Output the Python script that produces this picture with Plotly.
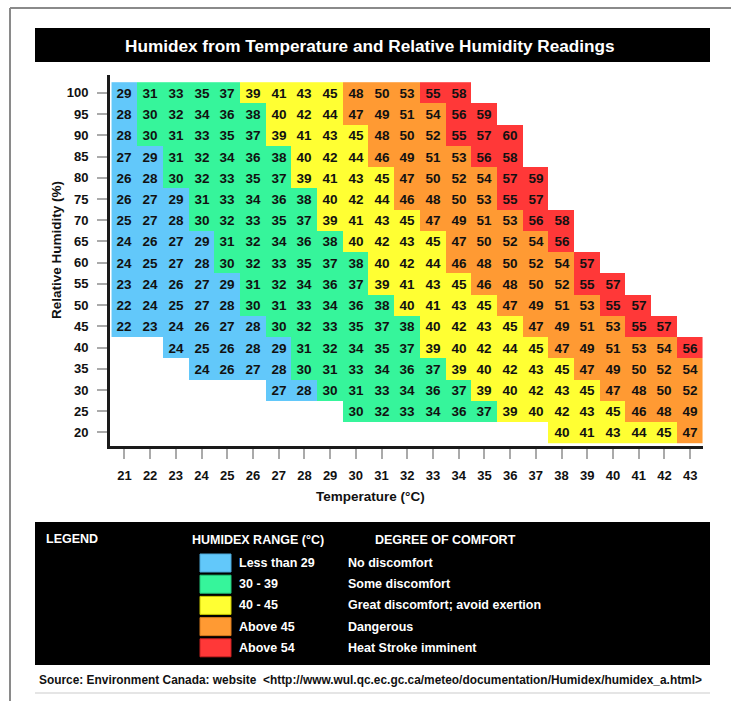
import plotly.graph_objects as go

# ---------------- data ----------------
TEMPERATURES = [21, 22, 23, 24, 25, 26, 27, 28, 29, 30, 31, 32, 33, 34, 35, 36, 37, 38, 39, 40, 41, 42, 43]
HUMIDITY = [100, 95, 90, 85, 80, 75, 70, 65, 60, 55, 50, 45, 40, 35, 30, 25, 20]
ROW_START_TEMP = [21, 21, 21, 21, 21, 21, 21, 21, 21, 21, 21, 21, 23, 24, 27, 30, 38]

HUMIDEX_100 = [29, 31, 33, 35, 37, 39, 41, 43, 45, 48, 50, 53, 55, 58]
HUMIDEX_95 = [28, 30, 32, 34, 36, 38, 40, 42, 44, 47, 49, 51, 54, 56, 59]
HUMIDEX_90 = [28, 30, 31, 33, 35, 37, 39, 41, 43, 45, 48, 50, 52, 55, 57, 60]
HUMIDEX_85 = [27, 29, 31, 32, 34, 36, 38, 40, 42, 44, 46, 49, 51, 53, 56, 58]
HUMIDEX_80 = [26, 28, 30, 32, 33, 35, 37, 39, 41, 43, 45, 47, 50, 52, 54, 57, 59]
HUMIDEX_75 = [26, 27, 29, 31, 33, 34, 36, 38, 40, 42, 44, 46, 48, 50, 53, 55, 57]
HUMIDEX_70 = [25, 27, 28, 30, 32, 33, 35, 37, 39, 41, 43, 45, 47, 49, 51, 53, 56, 58]
HUMIDEX_65 = [24, 26, 27, 29, 31, 32, 34, 36, 38, 40, 42, 43, 45, 47, 50, 52, 54, 56]
HUMIDEX_60 = [24, 25, 27, 28, 30, 32, 33, 35, 37, 38, 40, 42, 44, 46, 48, 50, 52, 54, 57]
HUMIDEX_55 = [23, 24, 26, 27, 29, 31, 32, 34, 36, 37, 39, 41, 43, 45, 46, 48, 50, 52, 55, 57]
HUMIDEX_50 = [22, 24, 25, 27, 28, 30, 31, 33, 34, 36, 38, 40, 41, 43, 45, 47, 49, 51, 53, 55, 57]
HUMIDEX_45 = [22, 23, 24, 26, 27, 28, 30, 32, 33, 35, 37, 38, 40, 42, 43, 45, 47, 49, 51, 53, 55, 57]
HUMIDEX_40 = [24, 25, 26, 28, 29, 31, 32, 34, 35, 37, 39, 40, 42, 44, 45, 47, 49, 51, 53, 54, 56]
HUMIDEX_35 = [24, 26, 27, 28, 30, 31, 33, 34, 36, 37, 39, 40, 42, 43, 45, 47, 49, 50, 52, 54]
HUMIDEX_30 = [27, 28, 30, 31, 33, 34, 36, 37, 39, 40, 42, 43, 45, 47, 48, 50, 52]
HUMIDEX_25 = [30, 32, 33, 34, 36, 37, 39, 40, 42, 43, 45, 46, 48, 49]
HUMIDEX_20 = [40, 41, 43, 44, 45, 47]

HUMIDEX_ROWS = [HUMIDEX_100, HUMIDEX_95, HUMIDEX_90, HUMIDEX_85, HUMIDEX_80, HUMIDEX_75,
                HUMIDEX_70, HUMIDEX_65, HUMIDEX_60, HUMIDEX_55, HUMIDEX_50, HUMIDEX_45,
                HUMIDEX_40, HUMIDEX_35, HUMIDEX_30, HUMIDEX_25, HUMIDEX_20]

# colour bands as drawn in the chart (upper value of each band)
BAND_UPPER = [29, 38, 45, 54]
BAND_COLORS = ["#62c8fa", "#36f59b", "#ffff33", "#ff9a33", "#ff3838"]
BAND_EDGE_COLORS = ["#4aa6d6", "#22c77a", "#c9c900", "#d97a1c", "#c82020"]
RANGE_LABELS = ["Less than 29", "30 - 39", "40 - 45", "Above 45", "Above 54"]
COMFORT_LABELS = ["No discomfort", "Some discomfort", "Great discomfort; avoid exertion",
                  "Dangerous", "Heat Stroke imminent"]

TITLE = "Humidex from Temperature and Relative Humidity Readings"
X_TITLE = "Temperature (°C)"
Y_TITLE = "Relative Humidity (%)"
SOURCE = ("Source: Environment Canada: website  "
          "&lt;http://www.wul.qc.ec.gc.ca/meteo/documentation/Humidex/humidex_a.html&gt;")

# ---------------- build grid ----------------
W, H = 731, 701
FONT = "Liberation Sans, Arial, Helvetica, sans-serif"


def band(v):
    return sum(1 for e in BAND_UPPER if v > e)


z_cat, z_txt = [], []
for start, row in zip(ROW_START_TEMP, HUMIDEX_ROWS):
    zc = [None] * len(TEMPERATURES)
    zt = [""] * len(TEMPERATURES)
    i0 = TEMPERATURES.index(start)
    for k, v in enumerate(row):
        zc[i0 + k] = band(v)
        zt[i0 + k] = str(v)
    z_cat.append(zc)
    z_txt.append(zt)

n = len(BAND_COLORS)
colorscale = []
for i, c in enumerate(BAND_COLORS):
    colorscale.append([i / n, c])
    colorscale.append([(i + 1) / n, c])

fig = go.Figure(go.Heatmap(
    x=TEMPERATURES, y=HUMIDITY, z=z_cat, text=z_txt,
    texttemplate="<b>%{text}</b>",
    textfont=dict(family=FONT, size=13.5, color="#111111"),
    colorscale=colorscale, zmin=-0.5, zmax=n - 0.5, showscale=False,
    hoverongaps=False, xgap=0, ygap=0,
))


def px(x):
    return x / W


def py(y):
    return 1 - y / H


shapes, annotations = [], []


def label(text, x, y, size, color, xanchor="left", angle=0):
    annotations.append(dict(text="<b>" + text + "</b>", xref="paper", yref="paper",
                            x=px(x), y=py(y), xanchor=xanchor, yanchor="middle",
                            textangle=angle, showarrow=False,
                            font=dict(family=FONT, size=size, color=color)))


# outer frame lines
shapes.append(dict(type="line", xref="paper", yref="paper", x0=px(10), x1=px(731), y0=py(8), y1=py(8),
                   line=dict(color="#8a8a8a", width=2)))
shapes.append(dict(type="line", xref="paper", yref="paper", x0=px(10), x1=px(10), y0=py(8), y1=py(701),
                   line=dict(color="#8a8a8a", width=2)))
# title bar
shapes.append(dict(type="rect", xref="paper", yref="paper", x0=px(35), x1=px(710), y0=py(62), y1=py(28),
                   fillcolor="black", line=dict(width=0)))
label(TITLE, 370, 46, 17.2, "white", xanchor="center")
# axis titles
label(X_TITLE, 370, 496, 13.5, "#111", xanchor="center")
label(Y_TITLE, 56, 250, 13.5, "#111", xanchor="center", angle=-90)

# legend box
shapes.append(dict(type="rect", xref="paper", yref="paper", x0=px(35), x1=px(710), y0=py(665), y1=py(522),
                   fillcolor="black", line=dict(width=0)))
label("LEGEND", 44, 539, 12.5, "white")
label("HUMIDEX RANGE (°C)", 190, 540, 12.5, "white")
label("DEGREE OF COMFORT", 373, 540, 12.5, "white")
for i, (c, ec, rl, cl) in enumerate(zip(BAND_COLORS, BAND_EDGE_COLORS, RANGE_LABELS, COMFORT_LABELS)):
    yc = 563 + i * 21.2
    shapes.append(dict(type="rect", xref="paper", yref="paper", x0=px(200), x1=px(231),
                       y0=py(yc + 9), y1=py(yc - 9), fillcolor=c, line=dict(color=ec, width=1)))
    label(rl, 237, yc, 12.5, "white")
    label(cl, 346, yc, 12.5, "white")

# source line
label(SOURCE, 37, 680, 11.9, "#111")
shapes.append(dict(type="line", xref="paper", yref="paper", x0=px(35), x1=px(710), y0=py(693), y1=py(693),
                   line=dict(color="#dddddd", width=1.5)))

axis_common = dict(showline=True, linecolor="#1a1a1a", linewidth=3, ticks="outside", ticklen=10,
                   tickwidth=1.5, tickcolor="#aaaaaa", showgrid=False, zeroline=False,
                   tickfont=dict(family=FONT, size=13, color="#111", weight="bold"), fixedrange=True)

fig.update_layout(
    width=W, height=H, margin=dict(l=0, r=0, t=0, b=0),
    paper_bgcolor="white", plot_bgcolor="white",
    font=dict(family=FONT),
    xaxis=dict(domain=[px(110), px(703)], range=[20.44, 43.5], tickmode="array",
               tickvals=TEMPERATURES, ticktext=[str(t) for t in TEMPERATURES],
               ticklabelstandoff=5, **axis_common),
    yaxis=dict(domain=[py(446), py(75)], range=[16.8, 104.2], tickmode="array",
               tickvals=HUMIDITY, ticktext=[str(h) for h in HUMIDITY],
               ticklabelstandoff=6, **axis_common),
    shapes=shapes, annotations=annotations, showlegend=False,
)

fig.write_html("out.html", config={"displayModeBar": False},
               post_script="document.body.style.margin='0';document.body.style.overflow='hidden';")
